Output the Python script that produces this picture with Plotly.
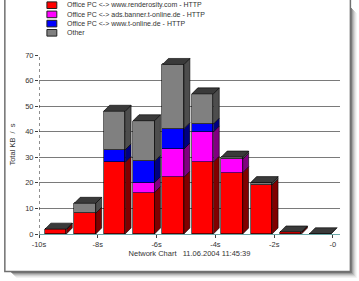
import plotly.graph_objects as go

# ---- data ----
slots = [-9.5, -8.5, -7.5, -6.5, -5.5, -4.5, -3.5, -2.5, -1.5, -0.5]
series_names = [
    "Office PC <-> www.renderosity.com - HTTP",
    "Office PC <-> ads.banner.t-online.de - HTTP",
    "Office PC <-> www.t-online.de - HTTP",
    "Other",
]
renderosity = [1.8, 8.1, 28.0, 16.2, 22.2, 28.1, 24.0, 19.2, 0.7, 0.0]
ads_banner = [0.0, 0.0, 0.0, 3.9, 11.0, 11.8, 5.3, 0.0, 0.0, 0.0]
t_online = [0.0, 0.0, 4.9, 8.3, 8.0, 3.1, 0.0, 0.0, 0.0, 0.0]
other = [0.1, 3.9, 15.1, 15.9, 25.1, 11.8, 0.8, 0.9, 0.1, 0.1]
tick_vals = [-10, -8, -6, -4, -2, 0]
tick_text = ["-10s", "-8s", "-6s", "-4s", "-2s", "-0"]
y_ticks = [0, 10, 20, 30, 40, 50, 60, 70]
x_title = "Network Chart   11.06.2004 11:45:39"
y_title = "Total KB  /  s"

# ---- style ----
front_colors = ["#ff0000", "#ff00ff", "#0000ff", "#808080"]
side_colors = ["#800000", "#800080", "#000080", "#4d4d4d"]
top_color = "#3a3a3a"
W, H = 359, 281
ML, MR, MT, MB = 36, 19, 55, 47
XR = [-10, 0.24]
YR = [0, 70]
px_x = (W - ML - MR) / (XR[1] - XR[0])
px_y = (H - MT - MB) / (YR[1] - YR[0])
DX = 6 / px_x
DY = 6 / px_y
BAR_W = 0.73
BAR_OFF = -0.3
FONT = "Liberation Sans, Arial, sans-serif"
TXT = "#333333"

series = [renderosity, ads_banner, t_online, other]

fig = go.Figure()

# front faces
for name, vals, col in zip(series_names, series, front_colors):
    fig.add_trace(go.Bar(
        x=slots, y=vals, name=name, width=BAR_W, offset=BAR_OFF,
        marker=dict(color=col, line=dict(color="#000000", width=0.6)),
        showlegend=False,
    ))

# side faces (per series) and top faces
base = [0.0] * len(slots)
for vals, scol in zip(series, side_colors):
    xs, ys = [], []
    for i, xc in enumerate(slots):
        v = vals[i]
        if v <= 0:
            continue
        x1 = xc + BAR_OFF + BAR_W
        y0 = base[i]
        y1 = base[i] + v
        xs += [x1, x1 + DX, x1 + DX, x1, x1, None]
        ys += [y0, y0 + DY, y1 + DY, y1, y0, None]
    fig.add_trace(go.Scatter(
        x=xs, y=ys, mode="lines", fill="toself", fillcolor=scol,
        line=dict(color="#000000", width=0.6), showlegend=False, hoverinfo="skip",
    ))
    base = [b + v for b, v in zip(base, vals)]

txs, tys = [], []
for i, xc in enumerate(slots):
    x0 = xc + BAR_OFF
    x1 = x0 + BAR_W
    t = base[i]
    txs += [x0, x1, x1 + DX, x0 + DX, x0, None]
    tys += [t, t, t + DY, t + DY, t, None]
fig.add_trace(go.Scatter(
    x=txs, y=tys, mode="lines", fill="toself", fillcolor=top_color,
    line=dict(color="#000000", width=0.6), showlegend=False, hoverinfo="skip",
))

shapes = []
annotations = []

# dotted y axis line
shapes.append(dict(type="line", xref="x", yref="paper", x0=XR[0], x1=XR[0], y0=0, y1=1,
                   line=dict(color="#202020", width=1, dash="dot"), layer="above"))


def px2paper_x(p):
    return (p - ML) / (W - ML - MR)


def px2paper_y(p):
    return (H - MB - p) / (H - MT - MB)


# custom legend
for k, (name, col) in enumerate(zip(series_names, front_colors)):
    yc = 5.2 + 9.2 * k
    shapes.append(dict(type="rect", xref="paper", yref="paper",
                       x0=px2paper_x(44), x1=px2paper_x(54),
                       y0=px2paper_y(yc - 3.3), y1=px2paper_y(yc + 3.3),
                       fillcolor=col, line=dict(color="#202020", width=1)))
    annotations.append(dict(text=name, xref="paper", yref="paper",
                            x=px2paper_x(62), y=px2paper_y(yc), xanchor="left", yanchor="middle",
                            showarrow=False, font=dict(size=7, color=TXT, family=FONT)))

# frame with shadow
for j, op in enumerate([0.55, 0.4, 0.28, 0.18, 0.1, 0.05]):
    off = 2 + j
    shapes.append(dict(type="rect", xref="paper", yref="paper",
                       x0=px2paper_x(350 + off - 1), x1=px2paper_x(350 + off),
                       y0=px2paper_y(271 + off), y1=px2paper_y(6 + off),
                       fillcolor="#000000", opacity=op, line=dict(width=0), layer="below"))
    shapes.append(dict(type="rect", xref="paper", yref="paper",
                       x0=px2paper_x(6 + off), x1=px2paper_x(350 + off - 1),
                       y0=px2paper_y(271 + off), y1=px2paper_y(271 + off - 1),
                       fillcolor="#000000", opacity=op, line=dict(width=0), layer="below"))
shapes.append(dict(type="rect", xref="paper", yref="paper",
                   x0=px2paper_x(1.5), x1=px2paper_x(350.5),
                   y0=px2paper_y(271.5), y1=px2paper_y(-1),
                   line=dict(color="#707070", width=1.5), fillcolor="rgba(0,0,0,0)", layer="below"))

fig.update_layout(
    width=W, height=H,
    margin=dict(l=ML, r=MR, t=MT, b=MB, pad=0),
    paper_bgcolor="#ffffff", plot_bgcolor="#ffffff",
    barmode="stack", bargap=0,
    showlegend=False,
    shapes=shapes, annotations=annotations,
    font=dict(family=FONT, size=7, color=TXT),
    xaxis=dict(range=XR, tickvals=tick_vals, ticktext=tick_text, showgrid=False,
               zeroline=False, showline=True, linecolor="#6aa8a8", linewidth=1,
               ticks="outside", ticklen=3, tickcolor="#404040",
               tickfont=dict(size=7.5, color=TXT, family=FONT),
               title=dict(text=x_title, font=dict(size=7.5, color=TXT, family=FONT), standoff=1)),
    yaxis=dict(range=YR, tickvals=y_ticks, showgrid=True, gridcolor="#7a7a7a", gridwidth=1,
               zeroline=False, showline=False, ticks="outside", ticklen=3, tickcolor="#404040",
               tickfont=dict(size=7.5, color=TXT, family=FONT),
               title=dict(text=y_title, font=dict(size=7.5, color=TXT, family=FONT), standoff=8)),
)

fig.write_html("out.html")
